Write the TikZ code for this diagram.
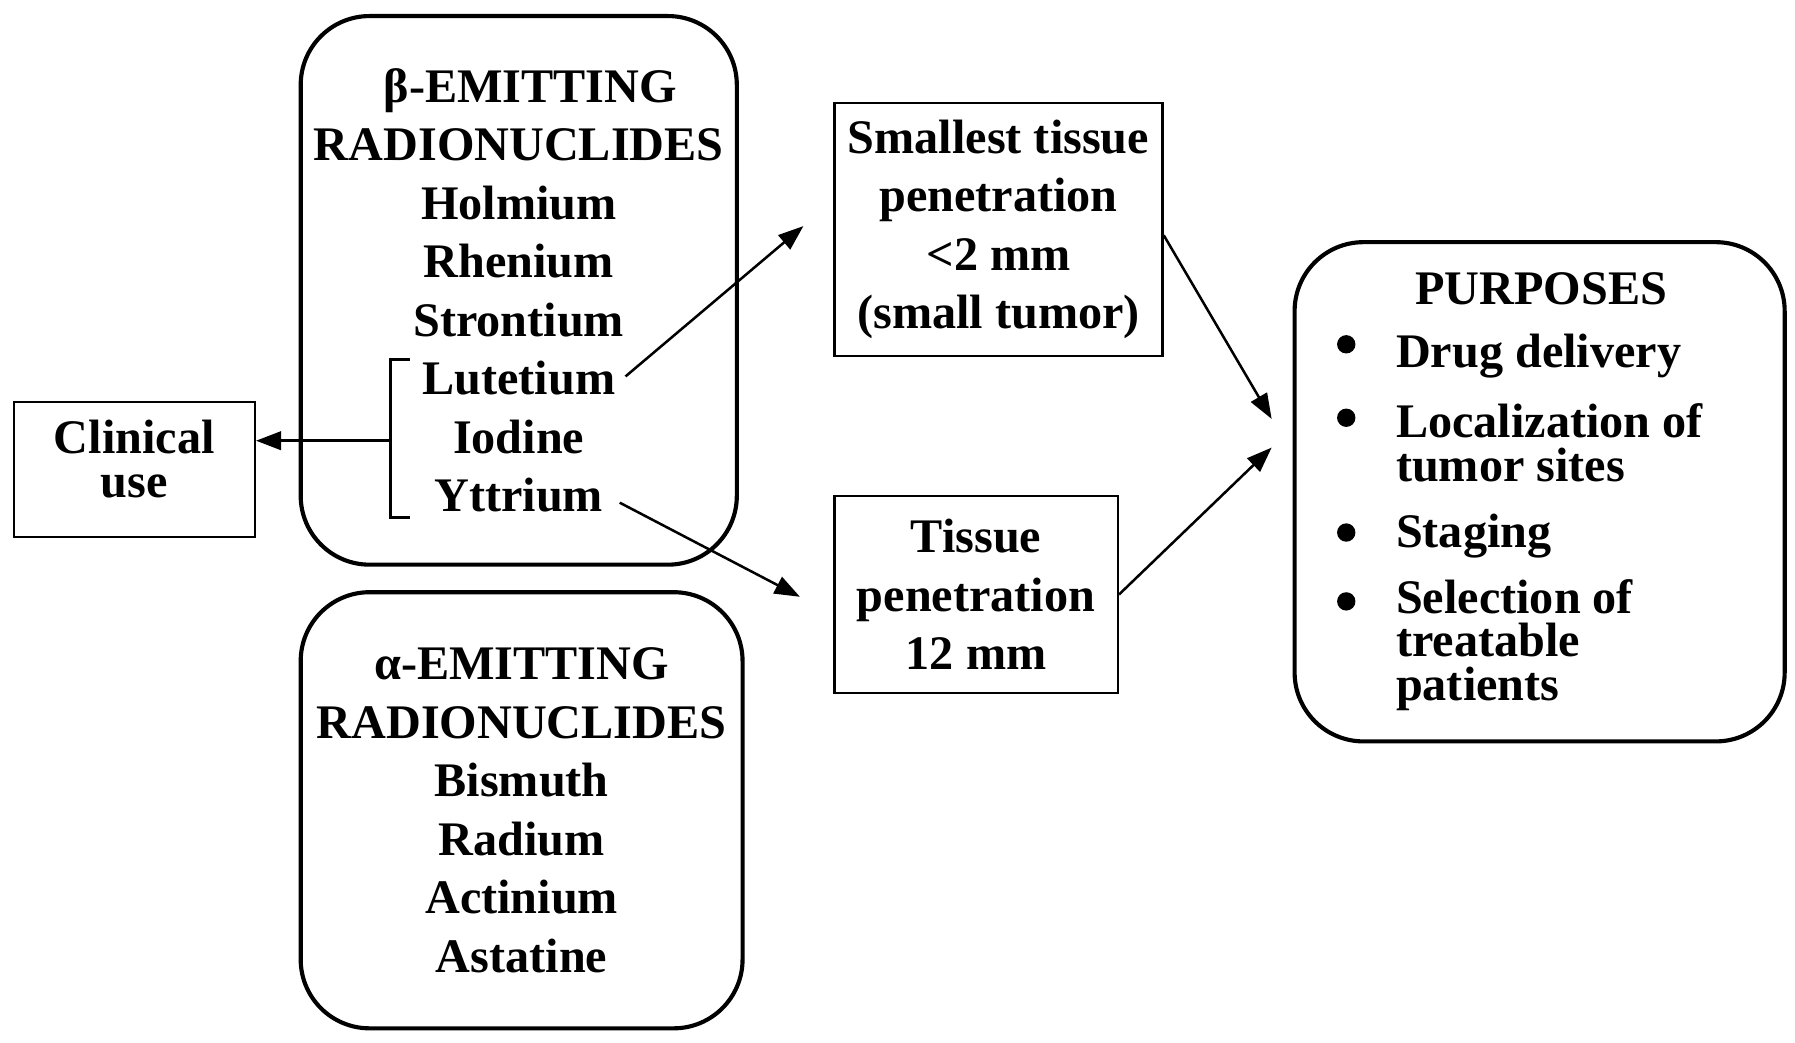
\documentclass[tikz,border=0pt]{standalone}
\usepackage{fontspec}
\setmainfont{Liberation Serif}
\usetikzlibrary{arrows.meta}
\begin{document}
\begin{tikzpicture}[x=0.5pt,y=-0.5pt,
  every node/.style={font=\bfseries\fontsize{21}{25.5}\selectfont},
  roundbox/.style={draw, line width=1.8pt, rounded corners=30pt, inner sep=0pt, align=center},
  sqbox/.style={draw, line width=1pt, inner sep=0pt, align=center},
  tight/.style={font=\bfseries\fontsize{21}{19}\selectfont},
  bul/.style={circle, fill, inner sep=0pt, minimum size=8pt},
  arr/.style={line width=1.1pt, -{Triangle[length=11pt,width=8pt]}},
]
\useasboundingbox (0,0) rectangle (1564,908);
% beta box
\node[roundbox, minimum width=190pt, minimum height=239pt] (beta) at (452,253)
  {\hspace*{10pt}β-EMITTING\\RADIONUCLIDES\\Holmium\\Rhenium\\Strontium\\Lutetium\\Iodine\\Yttrium};
% alpha box
\node[roundbox, minimum width=192.5pt, minimum height=190pt] (alpha) at (454.5,706)
  {α-EMITTING\\RADIONUCLIDES\\Bismuth\\Radium\\Actinium\\Astatine};
% clinical use
\node[sqbox, minimum width=105pt, minimum height=59pt] (clin) at (117,409) {};
\node[align=center, inner sep=0pt, tight] (clintext) at (117,400) {Clinical\\use};
% penetration boxes
\node[sqbox, minimum width=143pt, minimum height=110pt] (small) at (870,200)
  {Smallest tissue\\penetration\\<2 mm\\(small tumor)};
\node[sqbox, minimum width=123.5pt, minimum height=86pt] (tissue) at (850.5,518)
  {Tissue\\penetration\\12 mm};
% purposes box
\node[roundbox, minimum width=213.5pt, minimum height=217.5pt] (purp) at (1341.5,428.5) {};
\node (ptitle) at (1343,252) {PURPOSES};
\node[bul] (b1) at (1173,300) {};
\node[bul] (b2) at (1173,364) {};
\node[bul] (b3) at (1173,464) {};
\node[bul] (b4) at (1173,524) {};
\node[tight, anchor=west, align=left, inner sep=0pt] (i1) at (1216,310) {Drug delivery};
\node[tight, anchor=west, align=left, inner sep=0pt] (i2) at (1216,386) {Localization of\\tumor sites};
\node[tight, anchor=west, align=left, inner sep=0pt] (i3) at (1216,467) {Staging};
\node[tight, anchor=west, align=left, inner sep=0pt] (i4) at (1216,562) {Selection of\\treatable\\patients};
% bracket
\coordinate (brt) at (357,313);
\coordinate (brtc) at (340,313);
\coordinate (brbc) at (340,451);
\coordinate (brb) at (357,451);
\coordinate (brmid) at (340,384);
\draw[line width=1.5pt] (brt) -- (brtc) -- (brbc) -- (brb);
\draw[arr, line width=1.4pt] (brmid) -- (clin.east |- brmid);
% arrows
\coordinate (a1s) at (545,328);
\coordinate (a1e) at (700,197);
\coordinate (a2s) at (540,438);
\coordinate (a2e) at (697,520);
\coordinate (p1) at (1108,365);
\coordinate (p2) at (1108,390);
\draw[arr] (a1s) -- (a1e);
\draw[arr] (a2s) -- (a2e);
\draw[arr] ([yshift=-2.5pt]small.east) -- (p1);
\draw[arr] (tissue.east) -- (p2);
\end{tikzpicture}
\end{document}
